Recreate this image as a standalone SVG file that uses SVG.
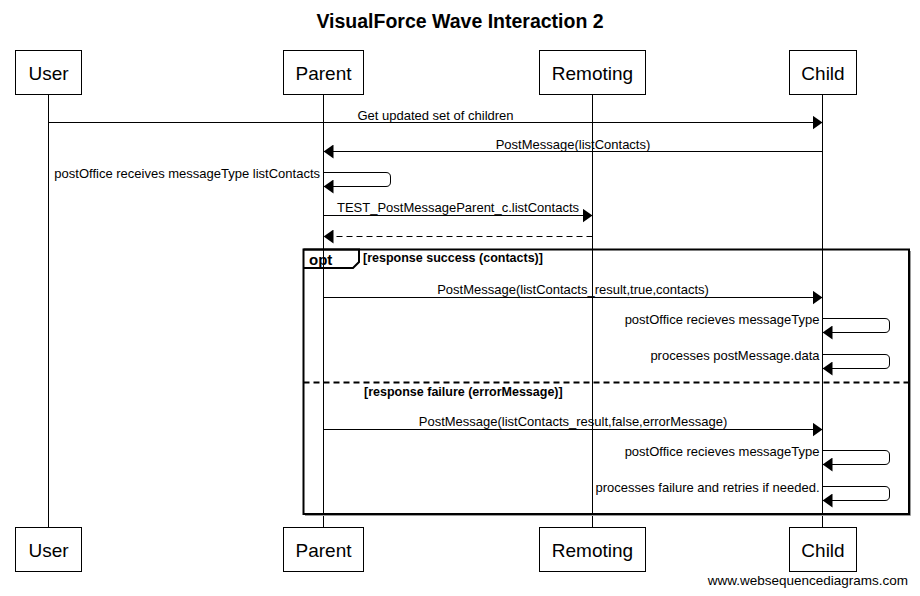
<svg xmlns="http://www.w3.org/2000/svg" width="920" height="596" viewBox="0 0 920 596">
<style>
  text { font-family: "Liberation Sans", Arial, sans-serif; fill: #000; }
  .title { font-size: 19.5px; font-weight: bold; text-anchor: middle; }
  .actor rect { fill: #fff; stroke: #000; stroke-width: 1; }
  .actor text { font-size: 19px; text-anchor: middle; }
  .life { stroke: #000; stroke-width: 1; fill: none; }
  .msg { stroke: #000; stroke-width: 1; fill: none; marker-end: url(#ah); }
  .dash { stroke-dasharray: 6,4; }
  .lbl { font-size: 13px; text-anchor: middle; }
  .lblr { font-size: 13px; text-anchor: end; }
  .frame { fill: none; stroke: #000; stroke-width: 2; }
  .shadow { fill: none; stroke: #999; stroke-width: 1; }
  .opt { font-size: 15px; font-weight: bold; }
  .guard { font-size: 12.5px; font-weight: bold; }
  .wm { font-size: 13.5px; text-anchor: end; }
</style>
<defs>
  <marker id="ah" viewBox="0 0 10 14" refX="10" refY="7" markerWidth="10" markerHeight="14" markerUnits="userSpaceOnUse" orient="auto">
    <path d="M0,0 L10,7 L0,14 z" fill="#000"/>
  </marker>
</defs>
<rect width="920" height="596" fill="#fff"/>
<text class="title" x="460" y="27.5">VisualForce Wave Interaction 2</text>

<g id="lifelines">
  <line class="life" x1="48.5" y1="95" x2="48.5" y2="527"/>
  <line class="life" x1="323.5" y1="95" x2="323.5" y2="527"/>
  <line class="life" x1="592.5" y1="95" x2="592.5" y2="527"/>
  <line class="life" x1="822.5" y1="95" x2="822.5" y2="527"/>
</g>

<g id="opt-frame">
  <path class="shadow" d="M910.5,251 V515.5 H305"/>
  <rect class="frame" x="303.5" y="249.5" width="605.5" height="264.5"/>
  <path class="frame" d="M303.5,249.5 H359 V262 L353,268 H303.5" stroke-width="1.5"/>
  <text class="opt" x="309" y="265">opt</text>
  <text class="guard" x="363" y="262">[response success (contacts)]</text>
  <line x1="303.5" y1="382.5" x2="909" y2="382.5" stroke="#000" stroke-width="2" stroke-dasharray="6,4"/>
  <text class="guard" x="364" y="396">[response failure (errorMessage)]</text>
</g>

<g id="connectors">
  <line class="msg" x1="48.5" y1="122.5" x2="822.5" y2="122.5"/>
  <text class="lbl" x="435.5" y="119.5">Get updated set of children</text>

  <line class="msg" x1="822.5" y1="151.5" x2="323.5" y2="151.5"/>
  <text class="lbl" x="573" y="148.5">PostMessage(listContacts)</text>

  <path class="msg" d="M323.5,172.5 H386 Q390.5,172.5 390.5,177 V182 Q390.5,186.5 386,186.5 H323.5"/>
  <text class="lblr" x="320" y="177.5">postOffice receives messageType listContacts</text>

  <line class="msg" x1="323.5" y1="215.5" x2="592.5" y2="215.5"/>
  <text class="lbl" x="458" y="211.5">TEST_PostMessageParent_c.listContacts</text>

  <line class="msg dash" x1="592.5" y1="236.5" x2="323.5" y2="236.5"/>

  <line class="msg" x1="323.5" y1="297.5" x2="822.5" y2="297.5"/>
  <text class="lbl" x="573" y="293.5">PostMessage(listContacts_result,true,contacts)</text>

  <path class="msg" d="M822.5,318.5 H885 Q889.5,318.5 889.5,323 V328 Q889.5,332.5 885,332.5 H822.5"/>
  <text class="lblr" x="819.5" y="323.5">postOffice recieves messageType</text>

  <path class="msg" d="M822.5,354.5 H885 Q889.5,354.5 889.5,359 V364 Q889.5,368.5 885,368.5 H822.5"/>
  <text class="lblr" x="819.5" y="359.5">processes postMessage.data</text>

  <line class="msg" x1="323.5" y1="429.5" x2="822.5" y2="429.5"/>
  <text class="lbl" x="573" y="425.5">PostMessage(listContacts_result,false,errorMessage)</text>

  <path class="msg" d="M822.5,450.5 H885 Q889.5,450.5 889.5,455 V460 Q889.5,464.5 885,464.5 H822.5"/>
  <text class="lblr" x="819.5" y="455.5">postOffice recieves messageType</text>

  <path class="msg" d="M822.5,486.5 H885 Q889.5,486.5 889.5,491 V496 Q889.5,500.5 885,500.5 H822.5"/>
  <text class="lblr" x="819.5" y="491.5">processes failure and retries if needed.</text>
</g>

<g id="User" class="actor">
  <rect x="15.5" y="50.5" width="66" height="44"/>
  <text x="48.5" y="80">User</text>
  <rect x="15.5" y="527.5" width="66" height="44"/>
  <text x="48.5" y="557">User</text>
</g>
<g id="Parent" class="actor">
  <rect x="283.5" y="50.5" width="80" height="44"/>
  <text x="323.5" y="80">Parent</text>
  <rect x="283.5" y="527.5" width="80" height="44"/>
  <text x="323.5" y="557">Parent</text>
</g>
<g id="Remoting" class="actor">
  <rect x="539.5" y="50.5" width="106" height="44"/>
  <text x="592.5" y="80">Remoting</text>
  <rect x="539.5" y="527.5" width="106" height="44"/>
  <text x="592.5" y="557">Remoting</text>
</g>
<g id="Child" class="actor">
  <rect x="789.5" y="50.5" width="67" height="44"/>
  <text x="823" y="80">Child</text>
  <rect x="789.5" y="527.5" width="67" height="44"/>
  <text x="823" y="557">Child</text>
</g>

<text class="wm" x="908" y="585">www.websequencediagrams.com</text>
</svg>
